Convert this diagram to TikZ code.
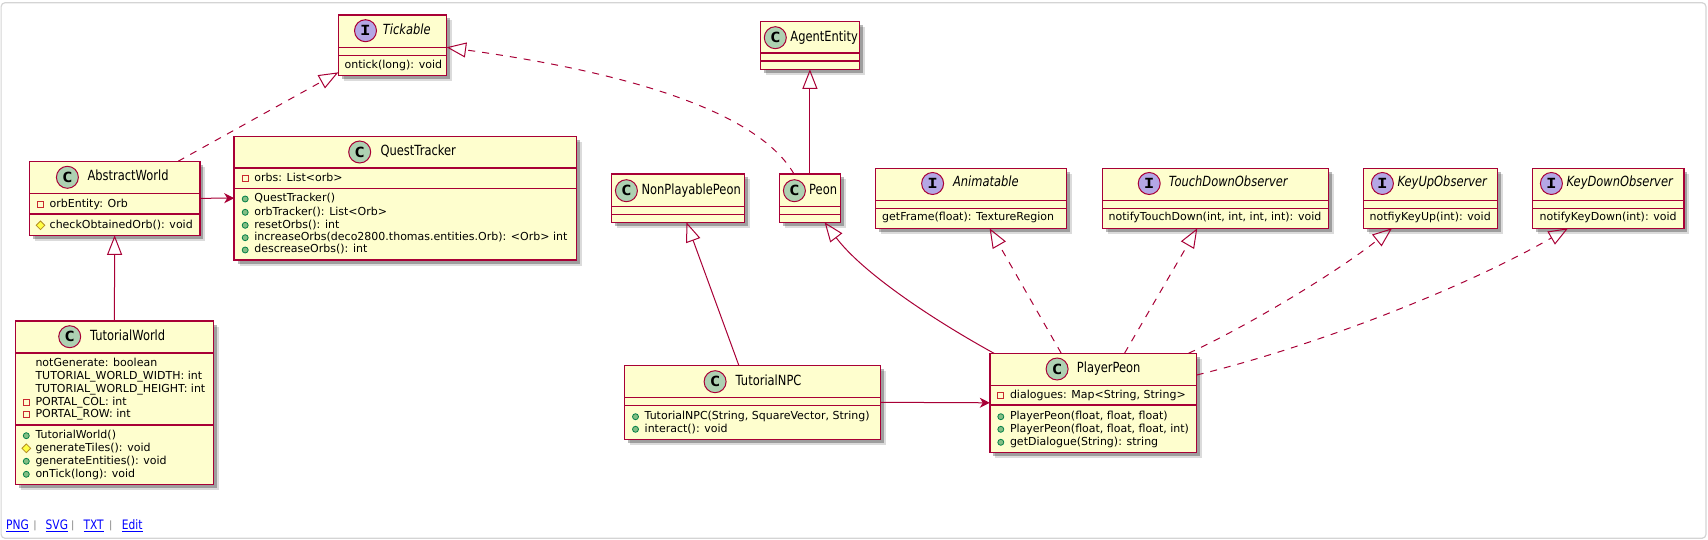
\documentclass[tikz,border=0pt]{standalone}
\usepackage{fontspec}
\setmainfont{DejaVu Sans}
\newfontfamily\titlefont{DejaVu Sans}[FakeStretch=0.82]
\newfontfamily\markfont{DejaVu Sans Mono}[FakeStretch=1.25]
\usetikzlibrary{arrows.meta,shadows,shapes.geometric}
\definecolor{umlred}{HTML}{A80036}
\definecolor{umlfill}{HTML}{FEFECE}
\definecolor{umlgreen}{HTML}{ADD1B2}
\definecolor{umlpurple}{HTML}{B4A7E5}
\definecolor{framegray}{HTML}{D4D4D4}
\definecolor{privline}{HTML}{C82930}
\definecolor{publine}{HTML}{038048}
\definecolor{pubfill}{HTML}{84BE84}
\definecolor{protline}{HTML}{B38D22}
\definecolor{protfill}{HTML}{FFFF44}
\tikzset{
	classshape/.style={draw=umlred,fill=umlfill,line width=1.5pt,inner sep=0pt,outer sep=0pt,
		drop shadow={shadow xshift=5.5pt,shadow yshift=-5.5pt,fill=black,opacity=0.14},
		drop shadow={shadow xshift=3.5pt,shadow yshift=-3.5pt,fill=black,opacity=0.28}},
	sepline/.style={draw=umlred,line width=1.5pt},
	headmark/.style={circle,draw=umlred,line width=1pt,minimum size=22pt,inner sep=0pt,font=\markfont\bfseries\fontsize{14}{14}\selectfont},
	classmark/.style={headmark,fill=umlgreen},
	ifacemark/.style={headmark,fill=umlpurple},
	classtitle/.style={anchor=west,inner sep=0pt,text height=10pt,text depth=3pt,font=\titlefont\fontsize{14}{16}\selectfont},
	ifacetitle/.style={classtitle,font=\titlefont\itshape\fontsize{14}{16}\selectfont},
	membertext/.style={anchor=west,inner sep=0pt,text height=8pt,text depth=2.5pt,font=\fontsize{11}{13}\selectfont},
	private/.style={rectangle,draw=privline,line width=0.8pt,minimum size=6pt,inner sep=0pt},
	public/.style={circle,draw=publine,fill=pubfill,line width=0.8pt,minimum size=6pt,inner sep=0pt},
	protected/.style={diamond,draw=protline,fill=protfill,line width=0.8pt,minimum size=9pt,inner sep=0pt},
	extends/.style={draw=umlred,line width=1pt,-{Triangle[open,length=19.5pt,width=15pt]}},
	implements/.style={extends,dash pattern=on 7pt off 7pt},
	uses/.style={draw=umlred,line width=1pt,-{Stealth[length=10pt,width=10pt,inset=3pt]}},
	footlink/.style={anchor=west,inner sep=0pt,text=blue,font=\titlefont\fontsize{13}{15}\selectfont},
	footbar/.style={inner sep=0pt,text=gray,font=\fontsize{10}{12}\selectfont}
}
%box: name, left, top, right, bottom, first rule, second rule
\newcommand{\classbox}[7]{
	\node[classshape,minimum width={(#4-#2)*1pt},minimum height={(#5-#3)*1pt}] (#1) at ({(#2+#4)/2},{(#3+#5)/2}) {};
	\draw[sepline] (#2,#6)--(#4,#6);
	\draw[sepline] (#2,#7)--(#4,#7);
}
%head: name, circle x, y, title x, title
\newcommand{\classhead}[5]{
	\node[classmark] (#1C) at (#2,#3) {C};
	\node[classtitle] (#1T) at (#4,#3) {#5};
}
\newcommand{\ifacehead}[5]{
	\node[ifacemark] (#1C) at (#2,#3) {I};
	\node[ifacetitle] (#1T) at (#4,#3) {#5};
}
%member: name, box left, y, marker, text
\newcommand{\member}[5]{
	\node[#4] (#1M) at (#2+11,#3) {};
	\node[membertext] (#1) at (#2+20,#3) {#5};
}
\begin{document}
\begin{tikzpicture}[x=1pt,y=-1pt]
		\useasboundingbox (0,0) rectangle (1708,540);
		\draw[framegray,line width=1.2pt,rounded corners=4pt] (1.1,2.7) rectangle (1706,538.3);
		%Tickable and AgentEntity
		\classbox{tickable}{338.3}{15}{446.6}{75.7}{47.3}{55.3}
		\ifacehead{tickable}{365.5}{30.7}{382.7}{Tickable}
		\node[membertext] (ontick) at (344.4,65.3) {ontick(long): void};
		\classbox{agent}{760.3}{21.3}{859.5}{69.3}{53}{61}
		\classhead{agent}{775.3}{37.7}{790.2}{AgentEntity}
		%World side
		\classbox{abstract}{29.5}{161.3}{199.8}{235.3}{193.3}{214}
		\classhead{abstract}{67.4}{177.3}{87.3}{AbstractWorld}
		\member{orbentity}{29.5}{204.3}{private}{orbEntity: Orb}
		\member{checkorb}{29.5}{225.3}{protected}{checkObtainedOrb(): void}
		\classbox{quest}{234.2}{136.3}{576.7}{260}{168}{188.3}
		\classhead{quest}{359.7}{152}{380.4}{QuestTracker}
		\member{orbs}{234.2}{178.7}{private}{orbs: List<orb>}
		\member{questnew}{234.2}{199}{public}{QuestTracker()}
		\member{orbtracker}{234.2}{212.3}{public}{orbTracker(): List<Orb>}
		\member{resetorbs}{234.2}{225.3}{public}{resetOrbs(): int}
		\member{increaseorbs}{234.2}{237.7}{public}{increaseOrbs(deco2800.thomas.entities.Orb): <Orb> int}
		\member{decreaseorbs}{234.2}{250}{public}{descreaseOrbs(): int}
		\classbox{tworld}{15.3}{321}{213.5}{484.3}{353}{425}
		\classhead{tworld}{69.7}{336.7}{89.9}{TutorialWorld}
		\node[membertext] (notgen) at (35.3,363.3) {notGenerate: boolean};
		\node[membertext] (twidth) at (35.3,376.3) {TUTORIAL\_WORLD\_WIDTH: int};
		\node[membertext] (theight) at (35.3,389.3) {TUTORIAL\_WORLD\_HEIGHT: int};
		\member{portalcol}{15.3}{402.3}{private}{PORTAL\_COL: int}
		\member{portalrow}{15.3}{414.7}{private}{PORTAL\_ROW: int}
		\member{tworldnew}{15.3}{435.7}{public}{TutorialWorld()}
		\member{gentiles}{15.3}{448.3}{protected}{generateTiles(): void}
		\member{genent}{15.3}{461.3}{public}{generateEntities(): void}
		\member{ontickw}{15.3}{474.3}{public}{onTick(long): void}
		%Peons
		\classbox{npeon}{611.5}{174}{744.7}{222.3}{206.3}{214.3}
		\classhead{npeon}{626.4}{190.7}{641.3}{NonPlayablePeon}
		\classbox{peon}{779.5}{174}{840.3}{222.3}{206.3}{214.3}
		\classhead{peon}{794.4}{190.7}{809}{Peon}
		\classbox{npc}{624.5}{365.3}{880.4}{439.3}{397.3}{405.3}
		\classhead{npc}{715.1}{381.7}{735.5}{TutorialNPC}
		\member{npcnew}{624.5}{416.7}{public}{TutorialNPC(String, SquareVector, String)}
		\member{interact}{624.5}{429.3}{public}{interact(): void}
		\classbox{player}{989.8}{353.3}{1196.7}{452.3}{385.7}{405}
		\classhead{player}{1057.1}{369}{1076.7}{PlayerPeon}
		\member{dialogues}{989.8}{395.7}{private}{dialogues: Map<String, String>}
		\member{playernew}{989.8}{416.7}{public}{PlayerPeon(float, float, float)}
		\member{playernewb}{989.8}{429.3}{public}{PlayerPeon(float, float, float, int)}
		\member{getdialogue}{989.8}{442.3}{public}{getDialogue(String): string}
		%Interfaces
		\classbox{anim}{875.5}{168.3}{1066.5}{228.3}{200.3}{208.3}
		\ifacehead{anim}{932.6}{183.5}{952.9}{Animatable}
		\node[membertext] (getframe) at (882,218) {getFrame(float): TextureRegion};
		\classbox{touch}{1102.5}{168.3}{1328.5}{228.3}{200.3}{208.3}
		\ifacehead{touch}{1149.2}{183.5}{1168.7}{TouchDownObserver}
		\node[membertext] (notifytouch) at (1108.5,218) {notifyTouchDown(int, int, int, int): void};
		\classbox{keyup}{1363.5}{168.3}{1497.3}{228.3}{200.3}{208.3}
		\ifacehead{keyup}{1382.4}{183.5}{1397.3}{KeyUpObserver}
		\node[membertext] (notifyup) at (1369.5,218) {notfiyKeyUp(int): void};
		\classbox{keydown}{1532.6}{168.3}{1683.8}{228.3}{200.3}{208.3}
		\ifacehead{keydown}{1551.4}{183.5}{1566.4}{KeyDownObserver}
		\node[membertext] (notifydown) at (1539.5,218) {notifyKeyDown(int): void};
		%Connectors
		\draw[implements] ([xshift=63.4pt]abstract.north)--([yshift=-27pt]tickable.west);
		\draw[implements] ([xshift=-15.9pt]peon.north) .. controls (760,115) and (640,74) .. ([yshift=-1.95pt]tickable.east);
		\draw[extends] (peon.north)--(agent.south);
		\draw[extends] (tworld.north)--(abstract.south);
		\draw[uses] (abstract.east)--(quest.west);
		\draw[uses] (npc.east)--(player.west);
		\draw[extends] ([xshift=-13.65pt]npc.north)--([xshift=8.4pt]npeon.south);
		\draw[extends] ([xshift=-99.25pt]player.north) .. controls (930,318) and (862,272) .. ([xshift=14.7pt]peon.south);
		\draw[implements] ([xshift=-32pt]player.north)--([xshift=18.6pt]anim.south);
		\draw[implements] ([xshift=31.25pt]player.north)--([xshift=-18.2pt]touch.south);
		\draw[implements] ([xshift=95.2pt]player.north) .. controls (1250,325) and (1340,270) .. ([xshift=-38.4pt]keyup.south);
		\draw[implements] ([yshift=27.8pt]player.east) .. controls (1320,345) and (1470,285) .. ([xshift=-40.2pt]keydown.south);
		%Footer
		\node[footlink] (png) at (6,525.7) {\underline{PNG}};
		\node[footbar] (barone) at (35,526) {|};
		\node[footlink] (svg) at (45.5,525.7) {\underline{SVG}};
		\node[footbar] (bartwo) at (72.9,526) {|};
		\node[footlink] (txt) at (83.4,525.7) {\underline{TXT}};
		\node[footbar] (barthree) at (110.7,526) {|};
		\node[footlink] (edit) at (121.7,525.7) {\underline{Edit}};
\end{tikzpicture}
\end{document}
